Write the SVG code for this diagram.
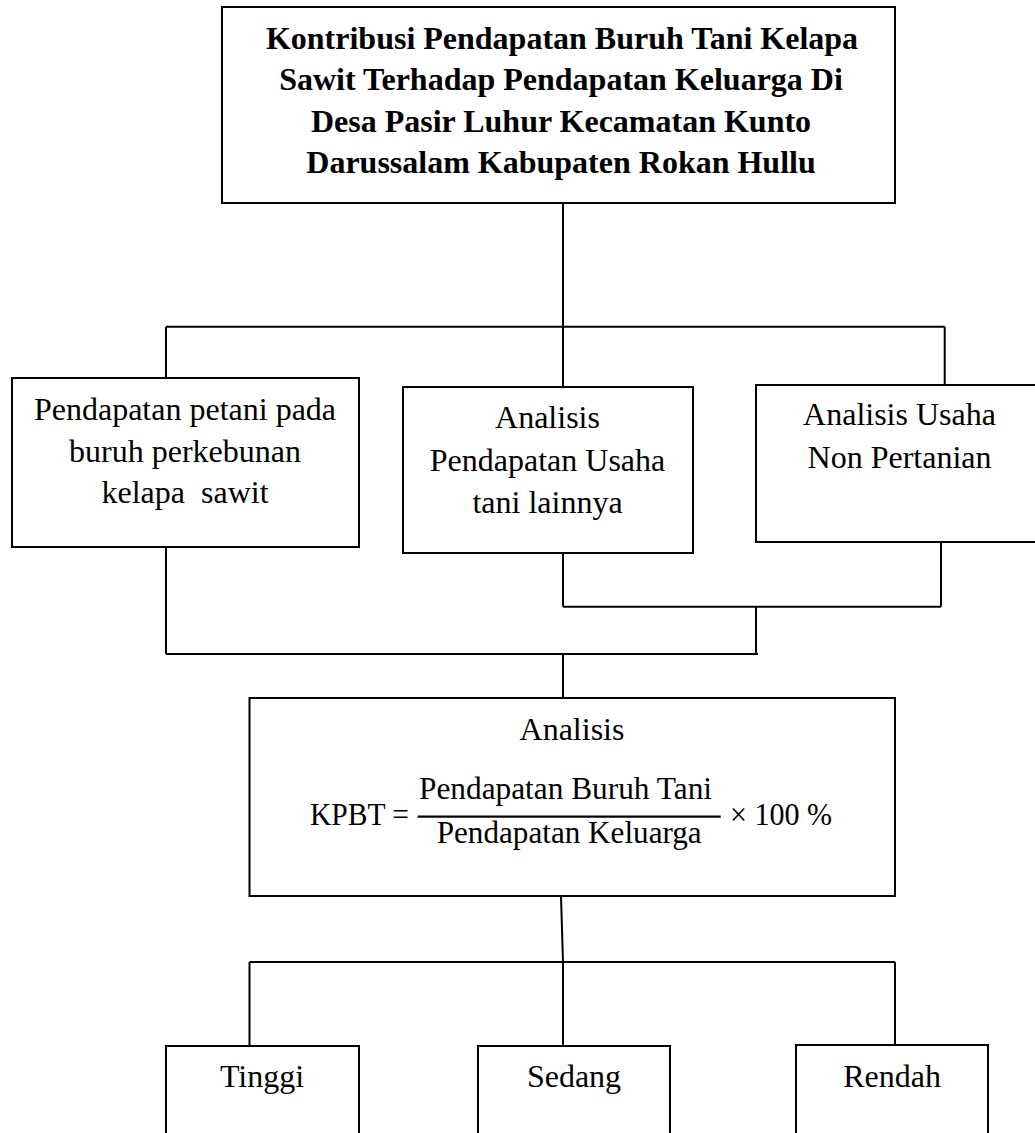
<svg xmlns="http://www.w3.org/2000/svg" width="1035" height="1133" viewBox="0 0 1035 1133">
<style>
.box{fill:#fff;stroke:#000;stroke-width:2}
.ln{fill:none;stroke:#000;stroke-width:2}
.t{font-family:"Liberation Serif","Times New Roman",serif;font-size:32px;fill:#000;text-anchor:middle}
.b{font-weight:bold}
.m{font-family:"Liberation Serif","Times New Roman",serif;font-size:32px;fill:#000}
</style>
<rect width="1035" height="1133" fill="#fff"/>
<g id="connectors">
<path class="ln" d="M563,203 V326.7 M166,326.7 H944.7 M166,326.7 V378 M563,326.7 V387 M944.7,326.7 V385"/>
<path class="ln" d="M563,553 V606.7 M941,542 V606.7 M563,606.7 H941 M756,606.7 V654 M166,547 V654 M166,654 H758 M563,654 V698"/>
<path class="ln" d="M561,896 L563,962 M249.5,962 H895 M249.5,962 V1046 M563,962 V1046 M895,962 V1045"/>
</g>
<g id="title">
<rect class="box" x="222" y="7" width="673" height="196"/>
<text class="t b" x="562" y="48.5">Kontribusi Pendapatan Buruh Tani Kelapa</text>
<text class="t b" x="561" y="90">Sawit Terhadap Pendapatan Keluarga Di</text>
<text class="t b" x="561" y="131.5">Desa Pasir Luhur Kecamatan Kunto</text>
<text class="t b" x="561" y="173">Darussalam Kabupaten Rokan Hullu</text>
</g>
<g id="buruh">
<rect class="box" x="12" y="378" width="347" height="169"/>
<text class="t" x="185" y="420">Pendapatan petani pada</text>
<text class="t" x="185" y="462">buruh perkebunan</text>
<text class="t" x="185" y="503" xml:space="preserve">kelapa  sawit</text>
</g>
<g id="usahatani">
<rect class="box" x="403" y="387" width="290" height="166"/>
<text class="t" x="547.5" y="428">Analisis</text>
<text class="t" x="547.5" y="470.5">Pendapatan Usaha</text>
<text class="t" x="547.5" y="512.5">tani lainnya</text>
</g>
<g id="nonpertanian">
<rect class="box" x="756" y="385" width="290" height="157"/>
<text class="t" x="899.5" y="425">Analisis Usaha</text>
<text class="t" x="899.5" y="468">Non Pertanian</text>
</g>
<g id="analisis">
<rect class="box" x="249.5" y="698" width="645.5" height="198"/>
<text class="t" x="572" y="740">Analisis</text>
<text class="m" x="310" y="825" textLength="99" lengthAdjust="spacingAndGlyphs">KPBT =</text>
<text class="m" x="419" y="799" textLength="293" lengthAdjust="spacingAndGlyphs">Pendapatan Buruh Tani</text>
<line x1="417.7" y1="816.7" x2="720.7" y2="816.7" stroke="#000" stroke-width="2.2"/>
<text class="m" x="436.7" y="843" textLength="265" lengthAdjust="spacingAndGlyphs">Pendapatan Keluarga</text>
<text class="m" x="730" y="825" textLength="102" lengthAdjust="spacingAndGlyphs">× 100 %</text>
</g>
<g id="tinggi">
<rect class="box" x="166" y="1046" width="193" height="100"/>
<text class="t" x="262" y="1087">Tinggi</text>
</g>
<g id="sedang">
<rect class="box" x="478" y="1046" width="192" height="100"/>
<text class="t" x="574" y="1087">Sedang</text>
</g>
<g id="rendah">
<rect class="box" x="796" y="1045" width="192" height="100"/>
<text class="t" x="892" y="1087">Rendah</text>
</g>
</svg>
